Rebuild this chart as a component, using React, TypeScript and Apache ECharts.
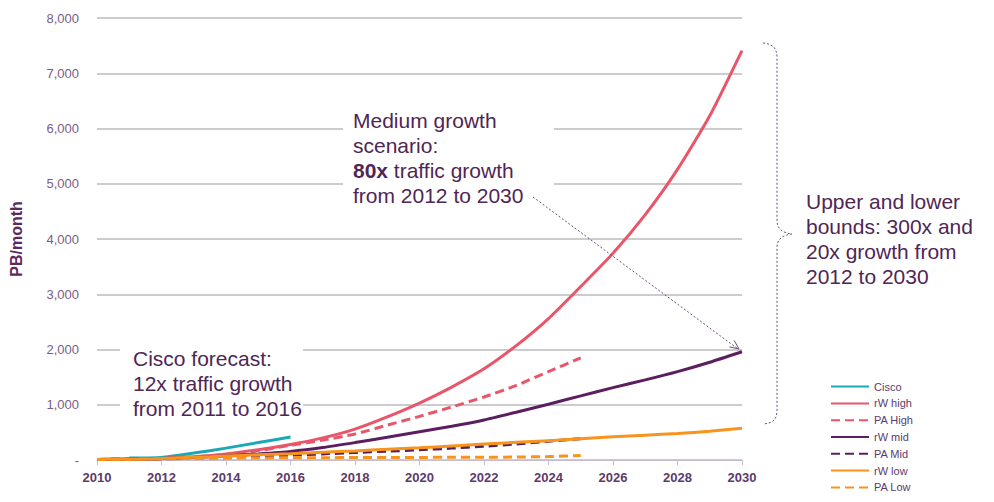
import React, { useEffect, useRef } from "react";
import * as echarts from "echarts";

const years = [2010, 2011, 2012, 2013, 2014, 2015, 2016, 2017, 2018, 2019, 2020, 2021, 2022, 2023, 2024, 2025, 2026, 2027, 2028, 2029, 2030];
const paYears = [2010, 2011, 2012, 2013, 2014, 2015, 2016, 2017, 2018, 2019, 2020, 2021, 2022, 2023, 2024, 2025];
const ciscoYears = [2011, 2012, 2013, 2014, 2015, 2016];

const cisco = [35, 45, 125, 215, 315, 415];
const rwHigh = [10, 20, 28, 60, 110, 185, 280, 400, 560, 780, 1030, 1320, 1650, 2070, 2560, 3140, 3740, 4440, 5260, 6230, 7410];
const paHigh = [10, 18, 28, 55, 100, 170, 265, 360, 470, 630, 790, 960, 1140, 1350, 1600, 1850];
const rwMid = [10, 16, 25, 45, 72, 110, 155, 225, 315, 410, 510, 610, 725, 865, 1010, 1160, 1310, 1450, 1600, 1770, 1960];
const paMid = [10, 14, 22, 35, 50, 68, 88, 110, 135, 160, 185, 215, 250, 290, 340, 385];
const rwLow = [10, 14, 28, 50, 72, 95, 115, 140, 165, 195, 220, 255, 290, 320, 350, 385, 420, 450, 480, 520, 575];
const paLow = [10, 14, 22, 28, 33, 37, 40, 42, 44, 46, 47, 49, 51, 53, 62, 80];

const seriesNames = ["Cisco", "rW high", "PA High", "rW mid", "PA Mid", "rW low", "PA Low"];

const TEAL = "#1aa9b4";
const RED = "#e9566a";
const PURPLE = "#5b1f5f";
const ORANGE = "#f7941e";
const TEXT = "#4f2656";
const DOT = "#6e4c7c";

const bracePath =
  "M763,43 C773,44 777,48 777,58 L777,221 C777,229 783,233 792,234 C783,235 777,239 777,247 L777,410 C777,420 773,423 763,424";
echarts.graphic.registerShape("brace", echarts.graphic.extendPath(bracePath, {}));

const zip = (xs: number[], ys: number[]) => xs.map((x, i) => [x, ys[i]]);

export default function App() {
  const ref = useRef<HTMLDivElement>(null);
  useEffect(() => {
    document.body.style.margin = "0";
    const chart = echarts.init(ref.current!, undefined, { renderer: "svg" });
    const line = (name: string, xs: number[], ys: number[], color: string, dashed: boolean) => ({
      name,
      type: "line",
      data: zip(xs, ys),
      symbol: "none",
      smooth: 0.2,
      color,
      lineStyle: { color, width: 3, type: dashed ? [9, 5] : "solid" },
    });
    const FONT = "Liberation Sans, Arial, sans-serif";
    const annFont = { fontFamily: FONT, fontSize: 21, lineHeight: 25, fill: TEXT };
    chart.setOption({
      animation: false,
      textStyle: { fontFamily: FONT },
      grid: { left: 93, right: 252, top: 18, bottom: 42 },
      xAxis: {
        type: "value",
        min: 2010,
        max: 2030,
        interval: 2,
        axisLine: { show: true, lineStyle: { color: "#c6bccd", width: 1 } },
        axisTick: { show: true, length: 5, lineStyle: { color: "#c6bccd" } },
        axisLabel: { color: "#5e3a6c", fontWeight: "bold", fontSize: 13, margin: 11, formatter: (v: number) => String(v) },
        splitLine: { show: false },
      },
      yAxis: {
        type: "value",
        min: 0,
        max: 8000,
        interval: 1000,
        name: "PB/month",
        nameLocation: "middle",
        nameRotate: 90,
        nameGap: 73,
        nameTextStyle: { color: "#5b2a5f", fontWeight: "bold", fontSize: 16 },
        axisLine: { show: false },
        axisTick: { show: false },
        axisLabel: {
          color: "#7a5c8a",
          fontSize: 13,
          margin: 18,
          formatter: (v: number) => (v === 0 ? "-" : v.toLocaleString("en-US")),
        },
        splitLine: { show: true, lineStyle: { color: "#cccccc", width: 2 } },
      },
      legend: {
        orient: "vertical",
        left: 830,
        top: 381,
        height: 200,
        padding: 0,
        itemWidth: 38,
        itemHeight: 14,
        itemGap: 5.6,
        data: seriesNames,
        itemStyle: { opacity: 0 },
        textStyle: { color: "#5b3b6b", fontSize: 11 },
      },
      series: [
        line(seriesNames[0], ciscoYears, cisco, TEAL, false),
        line(seriesNames[1], years, rwHigh, RED, false),
        line(seriesNames[2], paYears, paHigh, RED, true),
        line(seriesNames[3], years, rwMid, PURPLE, false),
        line(seriesNames[4], paYears, paMid, PURPLE, true),
        line(seriesNames[5], years, rwLow, ORANGE, false),
        line(seriesNames[6], paYears, paLow, ORANGE, true),
      ],
      graphic: [
        {
          type: "rect",
          z: 50,
          shape: { x: 120, y: 338, width: 183, height: 80 },
          style: { fill: "#ffffff" },
        },
        {
          type: "text",
          z: 51,
          x: 133,
          y: 346,
          style: { ...annFont, text: "Cisco forecast:\n12x traffic growth\nfrom 2011 to 2016" },
        },
        {
          type: "rect",
          z: 50,
          shape: { x: 343, y: 104, width: 211, height: 104 },
          style: { fill: "#ffffff" },
        },
        {
          type: "text",
          z: 51,
          x: 353,
          y: 108,
          style: {
            ...annFont,
            text: "Medium growth\nscenario:\n{b|80x} traffic growth\nfrom 2012 to 2030",
            rich: { b: { fontWeight: "bold", fontSize: 21, fill: TEXT, fontFamily: FONT } },
          },
        },
        {
          type: "line",
          z: 52,
          shape: { x1: 533, y1: 197, x2: 738, y2: 349 },
          style: { stroke: DOT, lineWidth: 1, lineDash: [2, 2] },
        },
        {
          type: "polyline",
          z: 52,
          shape: { points: [[729.4, 346.9], [739, 349], [734.2, 340.5]] },
          style: { stroke: DOT, lineWidth: 1, fill: "none" },
        },
        {
          type: "brace",
          z: 52,
          x: 0,
          y: 0,
          style: { stroke: DOT, lineWidth: 1, lineDash: [2, 2], fill: "none" },
        },
        {
          type: "text",
          z: 51,
          x: 806,
          y: 189,
          style: { ...annFont, text: "Upper and lower\nbounds: 300x and\n20x growth from\n2012 to 2030" },
        },
      ],
    });
    return () => chart.dispose();
  }, []);
  return <div ref={ref} style={{ width: 994, height: 502 }} />;
}
